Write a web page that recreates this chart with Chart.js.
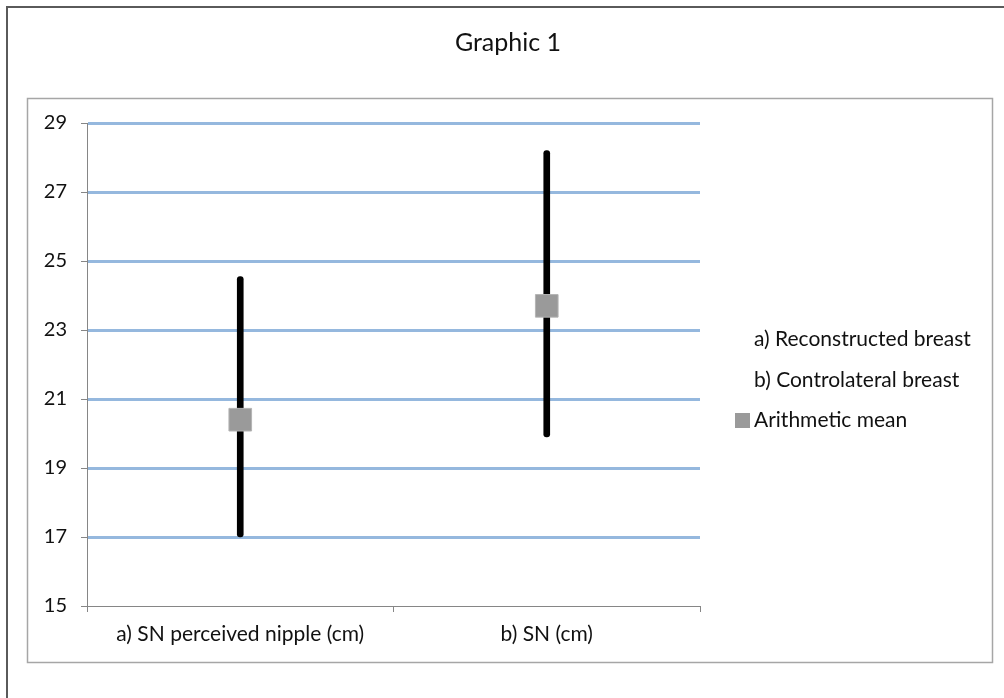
<!DOCTYPE html>
<html>
<head>
<meta charset="utf-8">
<script src="https://cdn.jsdelivr.net/npm/chart.js@4.4.1/dist/chart.umd.min.js"></script>
<style>
  html, body { margin: 0; padding: 0; background: #fff; }
  #wrap { width: 1004px; height: 698px; }
</style>
</head>
<body>
<div id="wrap"><canvas id="chartId" width="1004" height="698"></canvas></div>
<script>
// values
const categories = ["a) SN perceived nipple (cm)", "b) SN (cm)"];
const rangeLow = [17, 19.9];
const rangeHigh = [24.55, 28.2];
const means = [20.4, 23.7];
const legendTexts = ["a) Reconstructed breast", "b) Controlateral breast", "Arithmetic mean"];
const chartTitle = "Graphic 1";

const FONT = "Lato, 'DejaVu Sans', sans-serif";
const gray = "#868686";
const gridBlue = "#95b8de";
const meanGray = "#9a9a9a";
const textCol = "#111";

// frames, title and legend drawn by hand (Excel look)
const decor = {
  id: "decor",
  beforeDraw(chart) {
    const c = chart.ctx;
    c.save();
    c.fillStyle = "#fff";
    c.fillRect(0, 0, chart.width, chart.height);
    c.strokeStyle = "#5a5a5a";
    c.lineWidth = 2;
    c.beginPath();
    c.moveTo(7, 698);
    c.lineTo(7, 7);
    c.lineTo(1004, 7);
    c.stroke();
    c.strokeStyle = "#a6a6a6";
    c.lineWidth = 1.5;
    c.strokeRect(27.5, 98.5, 965, 564);
    c.restore();
  },
  afterDraw(chart) {
    const c = chart.ctx;
    c.save();
    c.fillStyle = textCol;
    c.textBaseline = "middle";
    c.textAlign = "center";
    c.font = "25px " + FONT;
    c.fillText(chartTitle, 508, 43);
    c.textAlign = "left";
    c.font = "21px " + FONT;
    const ys = [339, 380, 420];
    legendTexts.forEach((t, i) => c.fillText(t, 754, ys[i]));
    c.fillStyle = meanGray;
    c.fillRect(735, 413, 15, 15);
    c.restore();
  },
};

const ctx = document.getElementById("chartId");
const chart = new Chart(ctx, {
  type: "bar",
  data: {
    labels: categories,
    datasets: [
      {
        type: "line",
        label: "Arithmetic mean",
        data: means,
        showLine: false,
        pointStyle: "rect",
        pointRadius: 16,
        pointHoverRadius: 16,
        backgroundColor: meanGray,
        borderColor: "#b4b4b4",
        borderWidth: 1,
        order: 0,
      },
      {
        label: "range",
        data: rangeLow.map((v, i) => [v, rangeHigh[i]]),
        backgroundColor: "#000",
        barThickness: 6,
        borderRadius: 3,
        borderSkipped: false,
        order: 1,
      },
    ],
  },
  options: {
    responsive: false,
    animation: false,
    layout: { padding: { left: 28, right: 304, top: 123, bottom: 36 } },
    plugins: {
      legend: { display: false },
      tooltip: { enabled: false },
      title: { display: false },
    },
    scales: {
      x: {
        offset: true,
        afterFit(s) { s.height = 56; },
        grid: {
          offset: true,
          drawOnChartArea: false,
          drawTicks: true,
          tickLength: 6,
          tickColor: gray,
          tickWidth: 1,
        },
        border: { color: gray, width: 1 },
        ticks: { color: textCol, padding: 10, font: { family: FONT, size: 21 } },
      },
      y: {
        min: 15,
        max: 29,
        afterFit(s) { s.width = 59; },
        ticks: { stepSize: 2, color: textCol, padding: 14, font: { family: FONT, size: 20 } },
        grid: {
          color: (c) => (c.tick && c.tick.value === 15 ? "rgba(0,0,0,0)" : gridBlue),
          lineWidth: 3,
          tickLength: 6,
          tickColor: gray,
          tickWidth: 1,
        },
        border: { color: gray, width: 1 },
      },
    },
  },
  plugins: [decor],
});
</script>
</body>
</html>
